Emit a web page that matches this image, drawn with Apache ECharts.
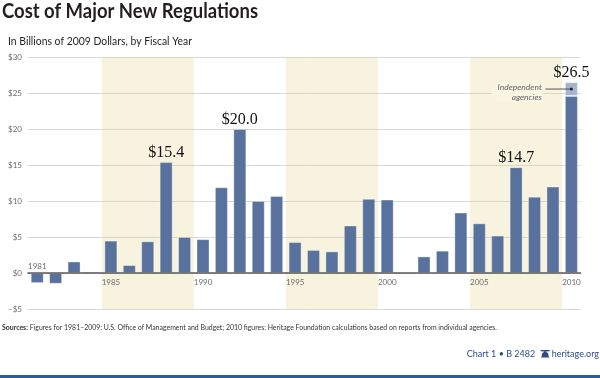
<!DOCTYPE html>
<html><head><meta charset="utf-8">
<script src="https://cdn.jsdelivr.net/npm/echarts@6/dist/echarts.min.js"></script>
<style>html,body{margin:0;padding:0;background:#fff}#c{width:600px;height:378px}</style>
</head><body><div id="c"></div>
<script>
// ---- data ----
const years = ['1981','1982','1983','1984','1985','1986','1987','1988','1989','1990','1991','1992','1993','1994','1995','1996','1997','1998','1999','2000','2001','2002','2003','2004','2005','2006','2007','2008','2009','2010'];
const regulationCosts = [-1.4,-1.5,1.6,0.2,4.5,1.1,4.4,15.4,5.0,4.7,11.9,20.0,10.0,10.7,4.3,3.2,3.0,6.6,10.3,10.2,null,2.3,3.1,8.4,6.9,5.2,14.7,10.6,12.0,24.6];
const independentAgencyCosts = [null,null,null,null,null,null,null,null,null,null,null,null,null,null,null,null,null,null,null,null,null,null,null,null,null,null,null,null,null,1.9];
const labelledYears = ['1988','1992','2007','2010'];
const shadedPeriods = [[1985,1989],[1995,1999],[2005,2009]];
const yAxisTicks = [-5,0,5,10,15,20,25,30];
const xAxisTickYears = [1985,1990,1995,2000,2005,2010];
const annotationText = 'Independent\nagencies';
const titleText = 'Cost of Major New Regulations';
const subtitleText = 'In Billions of 2009 Dollars, by Fiscal Year';
const sourcesLead = 'Sources:';
const sourcesText = ' Figures for 1981–2009: U.S. Office of Management and Budget; 2010 figures: Heritage Foundation calculations based on reports from individual agencies.';
const footerLeft = 'Chart 1 • B 2482';
const footerRight = 'heritage.org';

// ---- helpers ----
const mctx = document.createElement('canvas').getContext('2d');
function measure(text, font) { mctx.font = font; return mctx.measureText(text).width; }

// ---- chart ----
const chart = echarts.init(document.getElementById('c'), null, {renderer:'canvas'});
const GRID = {left:28, right:19.4, top:57, bottom:69};
const gridH = 378 - GRID.top - GRID.bottom;
const yMin = yAxisTicks[0], yMax = yAxisTicks[yAxisTicks.length-1];
const zeroOffset = -(0 - yMin) / (yMax - yMin) * gridH;
const firstYear = +years[0], lastYear = +years[years.length-1];
const total = i => (regulationCosts[i] || 0) + (independentAgencyCosts[i] || 0);
const labelFmt = p => '$' + total(p.dataIndex).toFixed(1);
const valueLabel = {show:true, position:'top', distance:1, formatter:labelFmt,
  fontFamily:'Liberation Serif', fontSize:16, color:'#111'};
const annIdx = independentAgencyCosts.findIndex(v => v != null);
const annCoord = [years[annIdx], regulationCosts[annIdx] + independentAgencyCosts[annIdx]/2];

const mainData = regulationCosts.map((v,i) => {
  if (v == null) return '-';
  if (labelledYears.includes(years[i]) && independentAgencyCosts[i] == null) return {value:v, label:valueLabel};
  return v;
});
const indData = independentAgencyCosts.map((v,i) => {
  if (v == null) return '-';
  if (labelledYears.includes(years[i])) return {value:v, label:valueLabel};
  return v;
});

const smallFont = {fontFamily:'Lato', fontSize:8, color:'#6b6b6b'};

// header/footer text fitting
const titleFont = 'bold 20px Lato';
const titleScale = 256 / measure(titleText, titleFont);
const subFont = '11px Lato';
const subScale = 184 / measure(subtitleText, subFont);
const srcBold = 'bold 8px Lato', srcReg = '8px Lato';
const srcW1 = measure(sourcesLead, srcBold), srcW2 = measure(sourcesText, srcReg);
const srcScale = 495 / (srcW1 + srcW2);
const footFont = '9px Lato';
const footRightX = 599;
const footRightW = measure(footerRight, footFont);
const iconW = 9;
const iconX = footRightX - footRightW - 2 - iconW;
const footLeftX = iconX - 5.5;

const option = {
  animation:false,
  backgroundColor:'#fff',
  grid:Object.assign({containLabel:false}, GRID),
  xAxis:[
    {type:'category', data:years, boundaryGap:true,
     axisLine:{show:false, onZero:false}, axisTick:{show:false}, axisLabel:{show:false}, splitLine:{show:false}},
    {type:'value', position:'bottom', offset:zeroOffset, min:firstYear, max:lastYear+1, interval:1, z:3,
     axisLine:{show:true, onZero:false, lineStyle:{color:'#5a5a5a', width:1.6}},
     axisTick:{show:false}, splitLine:{show:false},
     axisLabel:Object.assign({show:true, align:'left', margin:5, showMinLabel:true, showMaxLabel:true,
       formatter:v => xAxisTickYears.includes(v) ? String(v) : ''}, smallFont)},
    {type:'value', position:'bottom', offset:zeroOffset, min:firstYear, max:lastYear+1, interval:1,
     axisLine:{show:false, onZero:false}, axisTick:{show:false}, splitLine:{show:false},
     axisLabel:Object.assign({show:true, inside:true, align:'left', margin:3, showMinLabel:true, showMaxLabel:false,
       formatter:v => v === firstYear ? years[0] : ''}, smallFont)}
  ],
  yAxis:{type:'value', min:yMin, max:yMax, interval:yAxisTicks[1]-yAxisTicks[0], z:1,
    axisLine:{show:false}, axisTick:{show:false},
    splitLine:{show:true, lineStyle:{color:'#d8d8d8', width:1}},
    axisLabel:Object.assign({margin:6, formatter:v => v < 0 ? '–$' + Math.abs(v) : '$' + v}, smallFont)},
  series:[
    {type:'line', xAxisIndex:1, data:[], silent:true, z:1,
     markArea:{silent:true, itemStyle:{color:'rgba(228,212,138,0.27)'},
       data:shadedPeriods.map(p => [{xAxis:p[0]},{xAxis:p[1]+1}])}},
    {name:'Regulations', type:'bar', xAxisIndex:0, stack:'cost', barWidth:13, z:2,
     itemStyle:{color:'#58719d', borderColor:'rgba(255,255,255,0.35)', borderWidth:1},
     data:mainData},
    {name:'Independent agencies', type:'bar', xAxisIndex:0, stack:'cost', barWidth:13, z:2,
     itemStyle:{color:'#a7b4cb', borderColor:'rgba(255,255,255,0.35)', borderWidth:1},
     data:indData,
     markPoint:{silent:true, z:5, data:[
       {coord:annCoord, symbol:'rect', symbolSize:[26,1], symbolOffset:[-13,0], itemStyle:{color:'#555'}, label:{show:false}},
       {coord:annCoord, symbol:'circle', symbolSize:3, itemStyle:{color:'#222'},
        label:{show:true, position:'left', distance:27, formatter:annotationText, align:'right',
          fontFamily:'Lato', fontStyle:'italic', fontSize:8.5, lineHeight:9.5, color:'#666',
          backgroundColor:'#f8f5e2', padding:[1,1,1,6], offset:[0,3]}}
     ]}}
  ],
  graphic:[
    {type:'text', x:2, y:12, scaleX:titleScale, silent:true,
     style:{text:titleText, font:titleFont, fill:'#231f20', align:'left', verticalAlign:'middle'}},
    {type:'text', x:8, y:41, scaleX:subScale, silent:true,
     style:{text:subtitleText, font:subFont, fill:'#231f20', align:'left', verticalAlign:'middle'}},
    {type:'group', x:2, y:327, scaleX:srcScale, silent:true, children:[
      {type:'text', x:0, y:0, style:{text:sourcesLead, font:srcBold, fill:'#333', align:'left', verticalAlign:'middle'}},
      {type:'text', x:srcW1, y:0, style:{text:sourcesText, font:srcReg, fill:'#333', align:'left', verticalAlign:'middle'}}
    ]},
    {type:'text', x:footLeftX, y:354, silent:true,
     style:{text:footerLeft, font:footFont, fill:'#2d4c7f', align:'right', verticalAlign:'middle'}},
    {type:'text', x:footRightX, y:354, silent:true,
     style:{text:footerRight, font:footFont, fill:'#2d4c7f', align:'right', verticalAlign:'middle'}},
    {type:'rect', x:0, y:375, shape:{width:600, height:3}, style:{fill:'#2f5d9a'}, silent:true},
    {type:'group', x:iconX, y:350, silent:true, children:[
      {type:'rect', shape:{x:0, y:0, width:9, height:1.3}, style:{fill:'#2d4c7f'}},
      {type:'polygon', shape:{points:[[3,1.3],[6,1.3],[6,2.3],[7.6,3.5],[8,6.5],[9,7.6],[0,7.6],[1,6.5],[1.4,3.5],[3,2.3]]}, style:{fill:'#2d4c7f'}}
    ]}
  ]
};
chart.setOption(option);
</script></body></html>
